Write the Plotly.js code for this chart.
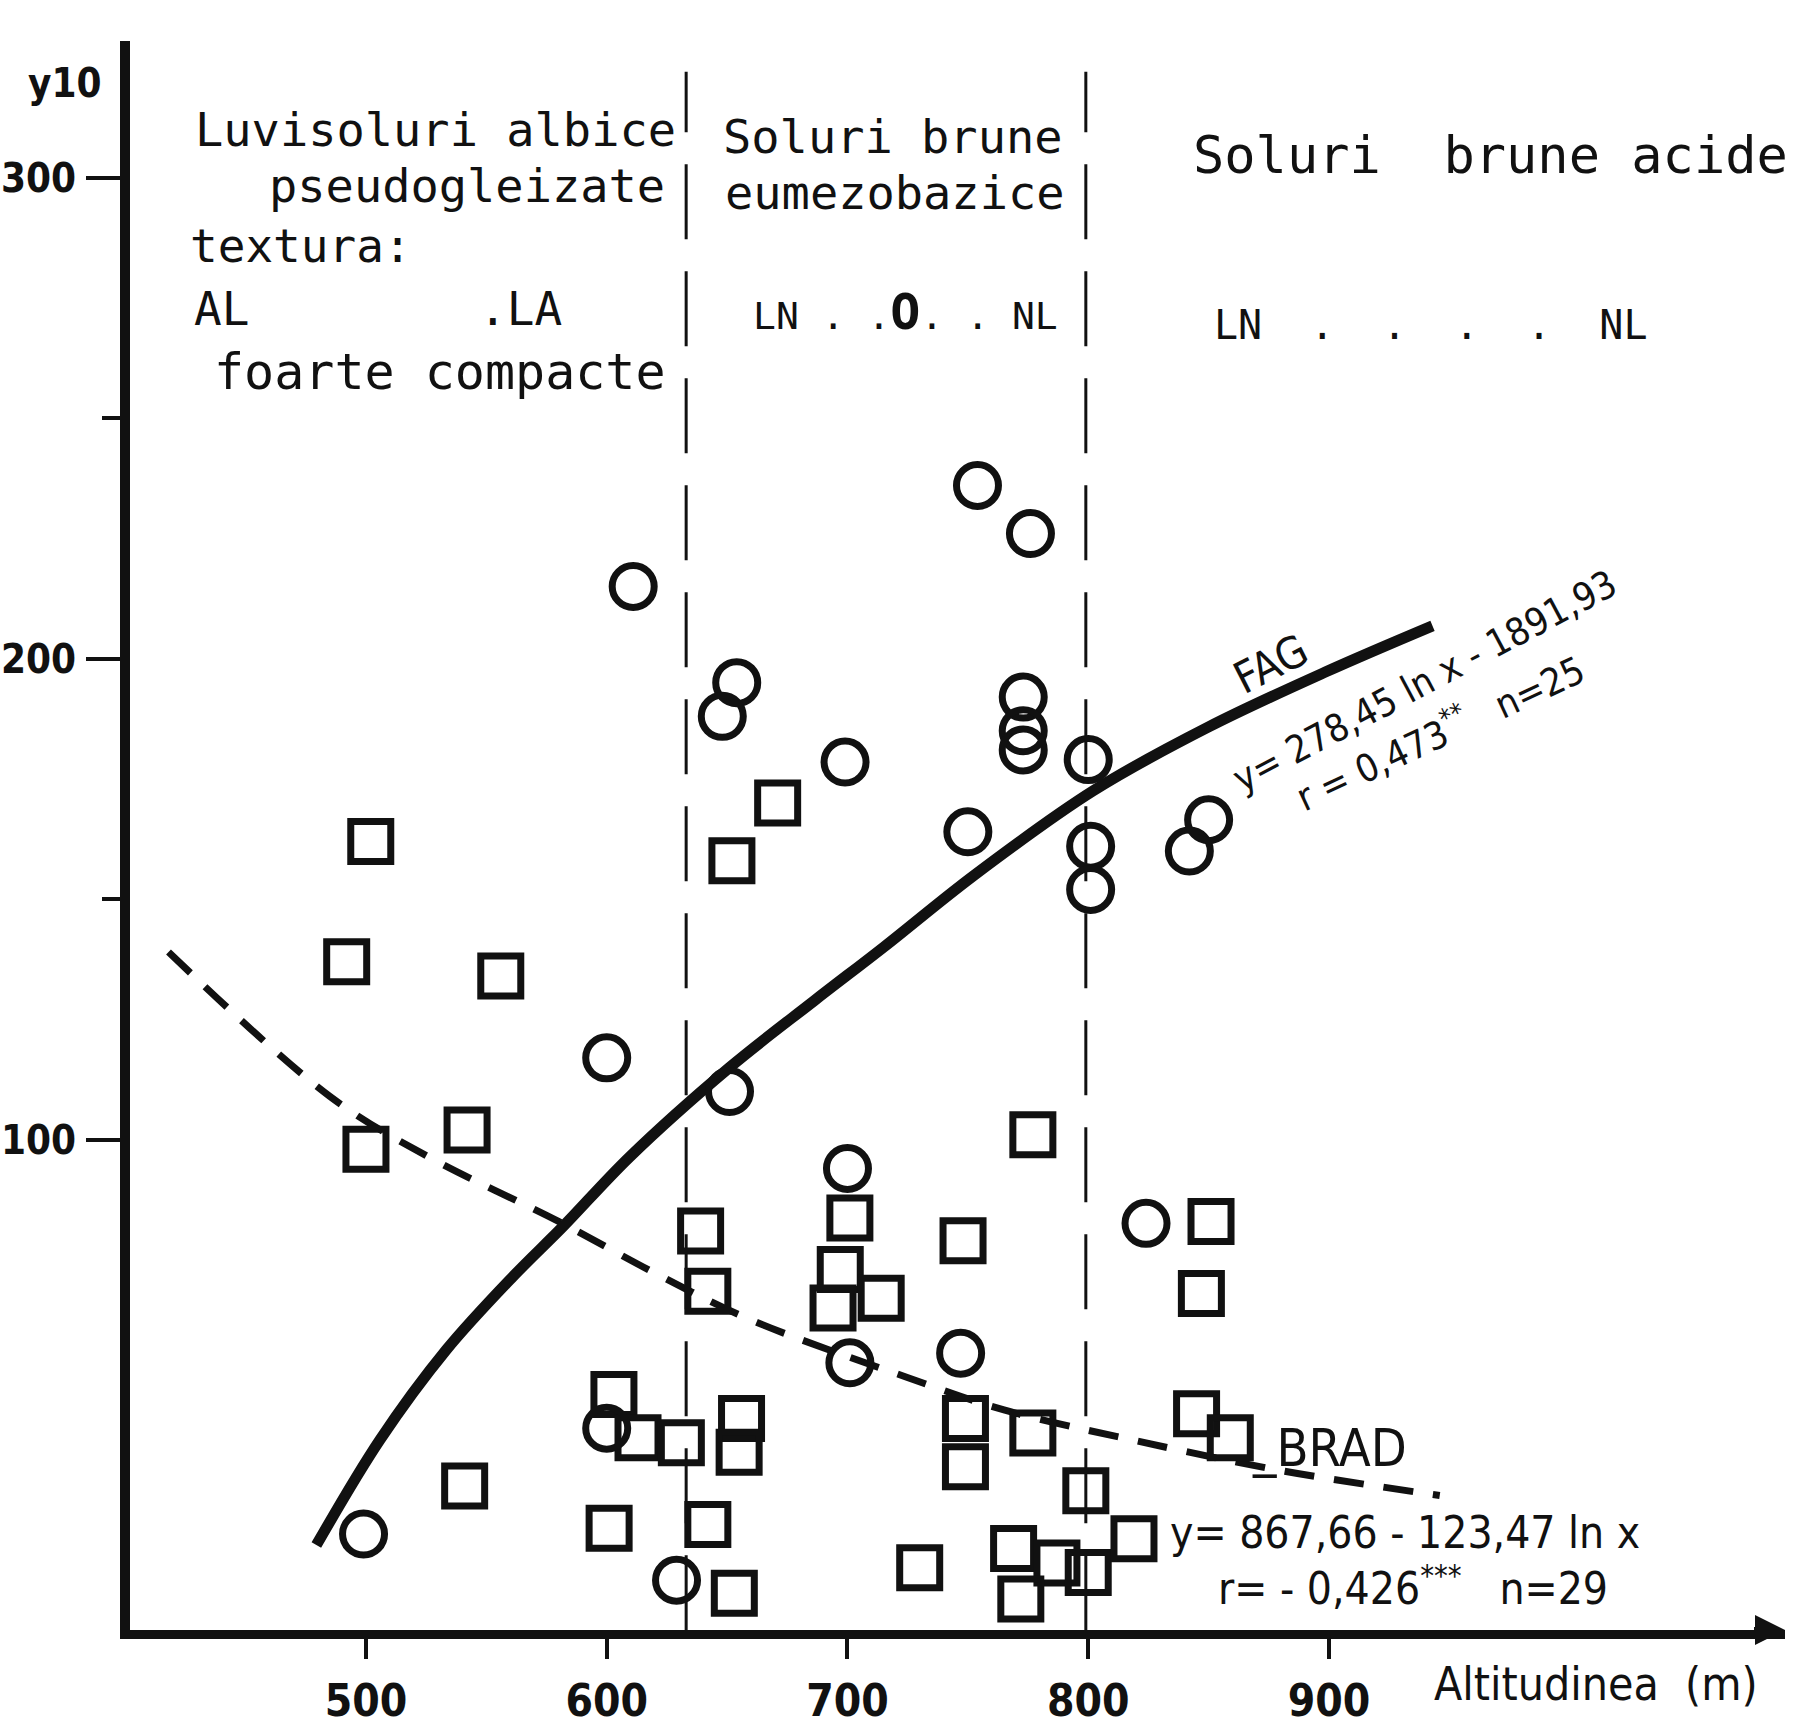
<!DOCTYPE html>
<html>
<head>
<meta charset="utf-8">
<script src="https://cdn.plot.ly/plotly-3.0.1.min.js"></script>
<style>html,body{margin:0;padding:0;background:#fff;}#chart{width:1815px;height:1730px;}</style>
</head>
<body>
<div id="chart"></div>
<script>
// ---- data ----
// FAG (beech) – open circles
const fagX = [499, 611, 600, 651, 654, 648, 699, 754, 776, 773, 773, 773, 750, 800, 801, 801, 842, 850, 700, 701, 747, 824, 600, 629];
const fagY = [18, 215, 117, 110, 195, 188, 178.5, 236, 226, 192, 185, 181, 164, 179, 161, 152, 160, 166.5, 94, 53.6, 55.6, 82.6, 40, 8.4];
// BRAD (fir) – open squares
const bradX = [502, 492, 556, 500, 542, 541, 601, 652, 671, 639, 642, 642, 653, 603, 613, 631, 656, 655, 701, 697, 694, 714, 748, 777, 749, 749, 777, 799, 730, 769, 787, 772, 800, 819, 851, 847, 845, 859];
const bradY = [162, 137, 134, 98, 102, 28, 19.2, 158, 170, 81, 68.5, 20, 5.7, 47, 38, 37, 42, 35, 83.7, 73, 65, 67, 79, 101, 42, 32, 39, 27, 11, 15, 12, 4.5, 10, 17, 83, 68, 43, 38];
// regression curves
const fagCurveX = [479.4, 505.7, 533.4, 561, 581.8, 609.5, 651, 686, 715, 752.7, 802, 850, 898.5, 943];
const fagCurveY = [15.7, 37.5, 56.3, 71.5, 81.9, 96.4, 115, 128.8, 140, 155, 172.5, 185.8, 197.2, 206.8];
const bradCurveX = [418, 485, 526, 580, 621, 660, 724, 765, 819, 879, 946];
const bradCurveY = [139, 109, 96.4, 83, 72, 62.5, 50.7, 43.8, 37.5, 31.3, 26];
// soil zone boundaries (altitude, m)
const boundaryX = [633, 799];
const boundaryTop = 322;
// axis ticks
const xTicks = [500, 600, 700, 800, 900];
const xTickText = ['500', '600', '700', '800', '900'];
const yTicks = [100, 200, 300];
const yTickText = ['100', '200', '300'];
const yMinorTicks = [150, 250];

const INK = '#111111';
const HAND = 'DejaVu Sans Mono, Liberation Mono, monospace';
const NARROW = 'Liberation Sans Narrow, DejaVu Sans Condensed, Arial Narrow, sans-serif';

const traces = [];
boundaryX.forEach(function (bx) {
  traces.push({
    x: [bx, bx], y: [-2, boundaryTop], mode: 'lines', hoverinfo: 'skip',
    line: {color: INK, width: 3, dash: '75px,32px'}
  });
});
traces.push({
  x: bradCurveX, y: bradCurveY, mode: 'lines', hoverinfo: 'skip',
  line: {color: INK, width: 7, dash: '30px,20px', shape: 'spline', smoothing: 1}
});
traces.push({
  x: fagCurveX, y: fagCurveY, mode: 'lines', hoverinfo: 'skip',
  line: {color: INK, width: 11, shape: 'spline', smoothing: 1}
});
traces.push({
  x: bradX, y: bradY, mode: 'markers', name: 'BRAD',
  marker: {symbol: 'square-open', size: 40, color: INK, line: {width: 7, color: INK}}
});
traces.push({
  x: fagX, y: fagY, mode: 'markers', name: 'FAG',
  marker: {symbol: 'circle-open', size: 42, color: INK, line: {width: 7, color: INK}}
});

function txt(text, x, y, size, opts) {
  return Object.assign({
    text: text, x: x, y: y, xref: 'x', yref: 'y', showarrow: false,
    font: {family: HAND, size: size, color: INK}, xanchor: 'center', yanchor: 'middle'
  }, opts || {});
}
function narrow(size) { return {family: NARROW, size: size, color: INK}; }

const annotations = [
  txt('Luvisoluri albice', 529, 310, 47),
  txt('pseudogleizate', 542, 298.4, 47),
  txt('textura:', 426, 285.8, 46, {xanchor: 'left'}),
  txt('AL', 427.7, 272.7, 46, {xanchor: 'left'}),
  txt('.LA', 546, 272.7, 46, {xanchor: 'left'}),
  txt('foarte compacte', 530.7, 259.6, 50),
  txt('Soluri brune', 719, 308.6, 47),
  txt('eumezobazice', 719.7, 297, 47),
  txt('LN . .<span style="font-size:50px"><b>O</b></span>. . NL', 724, 272, 38),
  txt('Soluri  brune acide', 967, 304.7, 52),
  txt('LN  .  .  .  .  NL', 942, 269.4, 40),
  txt('FAG', 876, 198.9, 44, {textangle: -27, font: narrow(44)}),
  txt('y= 278,45 ln x - 1891,93', 940, 195.3, 38, {textangle: -28, font: narrow(38)}),
  txt('r = 0,473<sup>**</sup>   n=25', 946, 185, 38, {textangle: -25, font: narrow(38)}),
  txt('_BRAD', 900, 35.8, 52, {font: narrow(52)}),
  txt('y= 867,66 - 123,47 ln x', 931.6, 18.4, 44, {font: narrow(44)}),
  txt('r= - 0,426<sup>***</sup>   n=29', 935, 7.4, 44, {font: narrow(44)}),
  txt('Altitudinea  (m)', 1011, -0.034, 46, {yref: 'paper', font: narrow(46)}),
  txt('y10', -0.039, 319.7, 40, {xref: 'paper', font: {family: NARROW, size: 40, color: INK, weight: 'bold'}}),
  {x: 1089.4, y: -1.95, xref: 'x', yref: 'y', ax: -34, ay: 0, text: ' ', showarrow: true,
   arrowhead: 2, arrowsize: 1, arrowwidth: 6, arrowcolor: INK}
];

const layout = {
  width: 1815, height: 1730,
  margin: {l: 130, r: 30, t: 41, b: 100},
  paper_bgcolor: '#ffffff', plot_bgcolor: '#ffffff',
  showlegend: false,
  xaxis: {
    range: [402, 1089.4], showgrid: false, zeroline: false,
    showline: true, linewidth: 9, linecolor: INK,
    ticks: 'outside', ticklen: 20, tickwidth: 4, tickcolor: INK,
    tickmode: 'array', tickvals: xTicks, ticktext: xTickText,
    tickfont: {family: NARROW, size: 44, color: INK, weight: 'bold'},
    ticklabelstandoff: 4
  },
  yaxis: {
    range: [-1.95, 328.4], showgrid: false, zeroline: false,
    showline: true, linewidth: 10, linecolor: INK,
    ticks: 'outside', ticklen: 34, tickwidth: 4, tickcolor: INK,
    tickmode: 'array', tickvals: yTicks, ticktext: yTickText,
    tickfont: {family: NARROW, size: 40, color: INK, weight: 'bold'},
    ticklabelstandoff: 2,
    minor: {tickmode: 'array', tickvals: yMinorTicks, ticks: 'outside', ticklen: 18, tickwidth: 4, tickcolor: INK, showgrid: false}
  },
  annotations: annotations
};

Plotly.newPlot('chart', traces, layout, {staticPlot: true, displayModeBar: false});
</script>
</body>
</html>
